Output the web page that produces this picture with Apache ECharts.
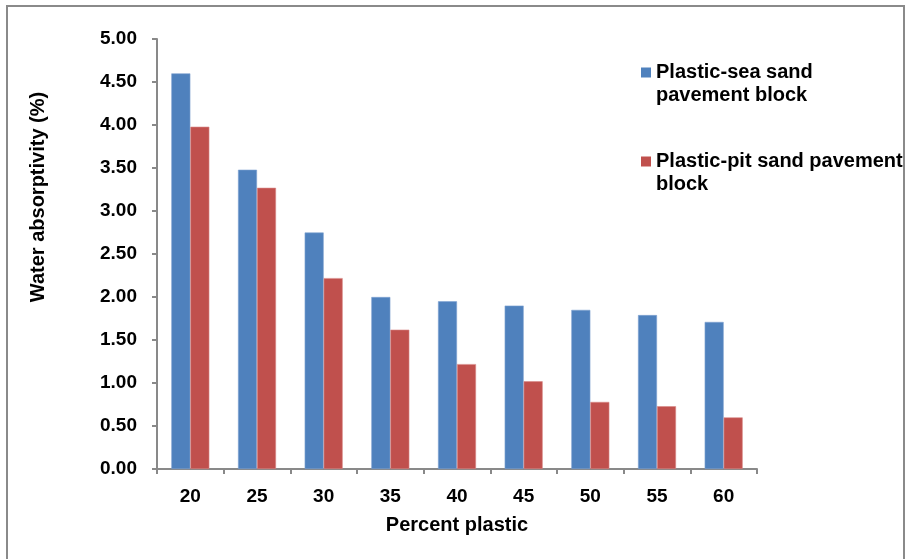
<!DOCTYPE html>
<html>
<head>
<meta charset="utf-8">
<script src="https://cdn.jsdelivr.net/npm/echarts@6/dist/echarts.min.js"></script>
<style>
  html, body { margin: 0; padding: 0; background: #fff; }
  #chart { width: 905px; height: 559px; }
</style>
</head>
<body>
<div id="chart"></div>
<script>
// Percent plastic content in the blocks
const categories = ['20', '25', '30', '35', '40', '45', '50', '55', '60'];
// Water absorptivity (%) for each block type
const seaSand = [4.60, 3.48, 2.75, 2.00, 1.95, 1.90, 1.85, 1.79, 1.71];
const pitSand = [3.98, 3.27, 2.22, 1.62, 1.22, 1.02, 0.78, 0.73, 0.60];
const seriesNames = ['Plastic-sea sand pavement block', 'Plastic-pit sand pavement block'];
// Legend entries wrap onto two lines; the leading empty line keeps the
// swatch level with the first line of text.
const legendLines = {
  'Plastic-sea sand pavement block': '\nPlastic-sea sand\npavement block',
  'Plastic-pit sand pavement block': '\nPlastic-pit sand pavement\nblock'
};

const FONT = '"Liberation Sans", Arial, sans-serif';
const AXIS_COLOR = '#898989';

const chart = echarts.init(document.getElementById('chart'), null, { renderer: 'canvas' });

chart.setOption({
  animation: false,
  backgroundColor: '#ffffff',
  textStyle: { fontFamily: FONT },
  grid: { left: 157, right: 148, top: 39, bottom: 90, containLabel: false },
  legend: {
    orient: 'vertical',
    left: 641,
    top: 38,
    padding: 0,
    itemWidth: 10,
    itemHeight: 10,
    itemGap: 20,
    icon: 'rect',
    selectedMode: false,
    data: seriesNames,
    formatter: name => legendLines[name],
    itemStyle: { borderWidth: 0 },
    textStyle: {
      fontFamily: FONT,
      fontSize: 20,
      fontWeight: 'bold',
      color: '#000',
      lineHeight: 23
    }
  },
  xAxis: {
    type: 'category',
    data: categories,
    name: 'Percent plastic',
    nameLocation: 'middle',
    nameGap: 46,
    nameTextStyle: { fontFamily: FONT, fontSize: 20, fontWeight: 'bold', color: '#000' },
    axisLine: { lineStyle: { color: AXIS_COLOR, width: 2 } },
    axisTick: { show: true, length: 5, lineStyle: { color: AXIS_COLOR, width: 2 } },
    axisLabel: { margin: 18, fontFamily: FONT, fontSize: 19, fontWeight: 'bold', color: '#000' },
    splitLine: { show: false }
  },
  yAxis: {
    type: 'value',
    min: 0,
    max: 5,
    interval: 0.5,
    axisLine: { show: true, lineStyle: { color: AXIS_COLOR, width: 2 } },
    axisTick: { show: true, length: 5, lineStyle: { color: AXIS_COLOR, width: 2 } },
    axisLabel: {
      margin: 20,
      fontFamily: FONT, fontSize: 19, fontWeight: 'bold', color: '#000',
      formatter: v => v.toFixed(2)
    },
    splitLine: { show: false }
  },
  series: [
    {
      name: seriesNames[0],
      type: 'bar',
      data: seaSand,
      barGap: '0%',
      barCategoryGap: '43%',
      itemStyle: { color: '#4F81BD', borderColor: '#7fa3d1', borderWidth: 0.6 }
    },
    {
      name: seriesNames[1],
      type: 'bar',
      data: pitSand,
      itemStyle: { color: '#C0504D', borderColor: '#d98a88', borderWidth: 0.6 }
    }
  ],
  graphic: [
    {
      type: 'rect',
      shape: { x: 7, y: 6, width: 897, height: 600 },
      style: { fill: 'none', stroke: '#8a8a8a', lineWidth: 2 },
      silent: true
    },
    {
      type: 'text',
      x: 38,
      y: 197,
      rotation: Math.PI / 2,
      style: {
        text: 'Water absorptivity (%)',
        font: 'bold 20px ' + FONT,
        fill: '#000',
        align: 'center',
        verticalAlign: 'middle'
      },
      silent: true
    }
  ]
});
</script>
</body>
</html>
